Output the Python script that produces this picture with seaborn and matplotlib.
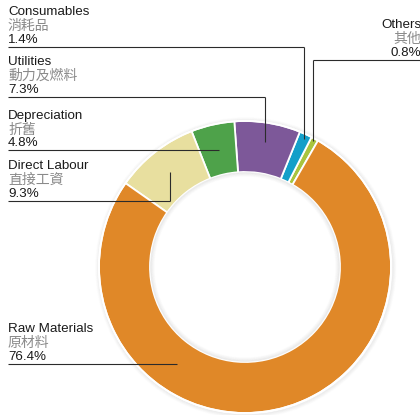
import numpy as np
import matplotlib
matplotlib.use("Agg")
import matplotlib.pyplot as plt
from matplotlib.patches import Circle
import seaborn as sns

# ---- data ----
categories_en = ["Others", "Consumables", "Utilities", "Depreciation", "Direct Labour", "Raw Materials"]
categories_zh = ["其他", "消耗品", "動力及燃料", "折舊", "直接工資", "原材料"]
shares = [0.8, 1.4, 7.3, 4.8, 9.3, 76.4]
pct_labels = ["0.8%", "1.4%", "7.3%", "4.8%", "9.3%", "76.4%"]
colors = ["#A8C43E", "#139FC9", "#7D5899", "#4EA24A", "#E8DF9F", "#E08828"]

sns.set_theme(style="white")
plt.rcParams['font.family'] = ['Liberation Sans', 'Noto Sans CJK TC', 'DejaVu Sans']

W, H = 420, 415
fig = plt.figure(figsize=(4.2, 4.15), dpi=100)
ax = fig.add_axes([0, 0, 1, 1])

cx, cy = 245, H - 267
R = 146
ring = 51

# soft shadow outside ring
for i in range(7):
    ax.add_patch(Circle((cx + 0.8, cy - 0.8), R + 0.6 + i * 0.6, fill=False,
                        edgecolor="#000000", alpha=0.045 * (7 - i) / 7, lw=0.8, zorder=0))

wedges, _ = ax.pie(shares, colors=colors, startangle=60, counterclock=True,
                   radius=R, center=(cx, cy),
                   wedgeprops=dict(width=ring, edgecolor="white", linewidth=1.3))
ax.add_patch(Circle((cx, cy), R, fill=False, edgecolor="white", lw=1.3, zorder=3))

# soft shadow inside the hole
r_in = R - ring
for i in range(7):
    ax.add_patch(Circle((cx, cy), r_in - 0.6 - i * 0.6, fill=False,
                        edgecolor="#000000", alpha=0.05 * (7 - i) / 7, lw=0.8, zorder=3))

ax.set_xlim(0, W)
ax.set_ylim(0, H)
ax.set_aspect('equal')
ax.axis('off')

# ---- labels / leaders (layout) ----
underline_px = {"Others": 60, "Consumables": 47, "Utilities": 97,
                "Depreciation": 150.5, "Direct Labour": 201, "Raw Materials": 364}
anchor_r = {"Others": 143, "Consumables": 141, "Utilities": 127,
            "Depreciation": 119, "Direct Labour": 121, "Raw Materials": 118.5}
anchor_angle_override = {"Raw Materials": 235}

fs = 9.6
fs_zh = 10
line_kw = dict(color="#2b2b2b", lw=0.8, solid_capstyle="butt", zorder=5)
for i, w in enumerate(wedges):
    name = categories_en[i]
    mid = (w.theta1 + w.theta2) / 2
    ang = np.deg2rad(anchor_angle_override.get(name, mid))
    axp = cx + anchor_r[name] * np.cos(ang)
    ayp = cy + anchor_r[name] * np.sin(ang)
    uy = H - underline_px[name]
    if name == "Others":
        x0, ha, tx = W, "right", W + 1
    else:
        x0, ha, tx = 8, "left", 8
    if name in ("Depreciation", "Raw Materials"):
        ayp = uy
    ax.plot([x0, axp], [uy, uy], **line_kw)
    ax.plot([axp, axp], [uy, ayp], **line_kw)
    ax.text(tx, uy + 32, name, ha=ha, va="baseline", fontsize=fs, color="#1a1a1a")
    ax.text(tx, uy + 17, categories_zh[i], ha=ha, va="baseline", fontsize=fs_zh,
            color="#8a8a8a", family=['Noto Sans CJK TC', 'DejaVu Sans'])
    ax.text(tx, uy + 4, pct_labels[i], ha=ha, va="baseline", fontsize=fs, color="#1a1a1a")

fig.savefig("out.png", dpi=100)
